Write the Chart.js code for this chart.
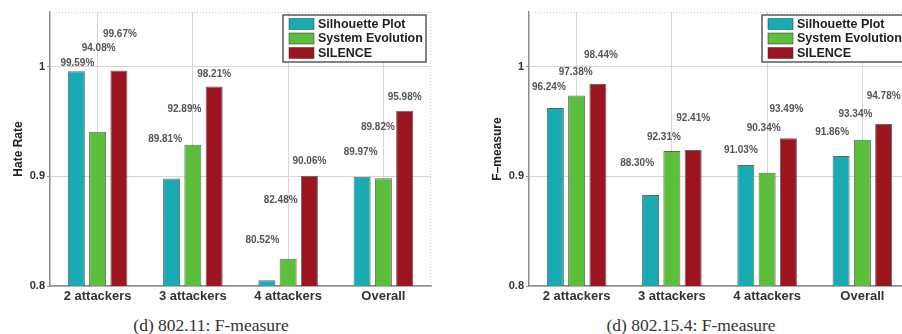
<!DOCTYPE html>
<html>
<head>
<meta charset="utf-8">
<script src="https://cdn.jsdelivr.net/npm/chart.js@4.4.1/dist/chart.umd.min.js"></script>
<style>
  html, body { margin: 0; padding: 0; background: #fff; width: 902px; height: 334px; overflow: hidden; }
  canvas { position: absolute; top: 0; }
  #wifi { left: 0; }
  #zigbee { left: 450px; }
  .cap { position: absolute; top: 315px; line-height: 20px; font-family: "Liberation Serif", "Times New Roman", serif;
         font-size: 17.5px; color: #333; white-space: nowrap; transform: translateX(-50%); }
</style>
</head>
<body>
<canvas id="wifi" width="450" height="306"></canvas>
<canvas id="zigbee" width="470" height="306"></canvas>
<div class="cap" style="left:211px">(d) 802.11: F-measure</div>
<div class="cap" style="left:691px">(d) 802.15.4: F-measure</div>
<script>
// ---- data ----
const categories = ['2 attackers', '3 attackers', '4 attackers', 'Overall'];
const seriesNames = ['Silhouette Plot', 'System Evolution', 'SILENCE'];

// 802.11 results, percent
const wifiSilhouette = [99.59, 89.81, 80.52, 89.97];
const wifiEvolution  = [94.08, 92.89, 82.48, 89.82];
const wifiSilence    = [99.67, 98.21, 90.06, 95.98];

// 802.15.4 results, percent
const zigSilhouette = [96.24, 88.30, 91.03, 91.86];
const zigEvolution  = [97.38, 92.31, 90.34, 93.34];
const zigSilence    = [98.44, 92.41, 93.49, 94.78];

const yTicks = [0.8, 0.9, 1];

// ---- styling ----
const seriesColors = ['#19abb4', '#5cbf3c', '#9c141d'];
const SANS = '"Liberation Sans", Arial, Helvetica, sans-serif';

// value-label placement: [x shift in px, height on the y axis] per series, per category
const wifiLabelPlace = [
  [[1, 1.003], [-6.5, 0.934], [-4.5, 0.842], [-1.5, 0.922]],
  [[1, 1.017], [-8.5, 0.961], [-7.5, 0.878], [-5.5, 0.945]],
  [[1, 1.030], [0, 0.993], [0, 0.914], [0, 0.972]]
];
const zigLabelPlace = [
  [[-6.5, 0.981], [-13.5, 0.912], [-5, 0.924], [-9, 0.940]],
  [[-1, 0.995], [-8, 0.936], [-3.5, 0.944], [-7, 0.957]],
  [[3, 1.0106], [0, 0.953], [-2, 0.961], [0, 0.973]]
];

// dotted frame on the top and right edges of the plot box
const frameLines = {
  id: 'frameLines',
  beforeDatasetsDraw(chart) {
    const { ctx, chartArea: a } = chart;
    ctx.save();
    ctx.strokeStyle = '#cfcfcf';
    ctx.lineWidth = 1;
    ctx.setLineDash([1, 2]);
    ctx.beginPath();
    ctx.moveTo(a.left, a.top + 0.5);
    ctx.lineTo(a.right, a.top + 0.5);
    ctx.moveTo(a.right - 0.5, a.top);
    ctx.lineTo(a.right - 0.5, a.bottom);
    ctx.stroke();
    ctx.restore();
  }
};

// percentage labels above the bars
const valueLabels = {
  id: 'valueLabels',
  afterDatasetsDraw(chart, args, opts) {
    const { ctx } = chart;
    const y = chart.scales.y;
    ctx.save();
    ctx.font = 'bold 10px ' + SANS;
    ctx.fillStyle = '#555';
    ctx.textAlign = 'center';
    ctx.textBaseline = 'middle';
    chart.data.datasets.forEach((ds, si) => {
      const meta = chart.getDatasetMeta(si);
      meta.data.forEach((bar, ci) => {
        const [dx, lvl] = opts.place[si][ci];
        const pct = ds.pct[ci];
        ctx.fillText(pct.toFixed(2) + '%', bar.x + dx, y.getPixelForValue(lvl));
      });
    });
    ctx.restore();
  }
};

// boxed legend in the upper-right corner of the plot
const boxLegend = {
  id: 'boxLegend',
  afterDraw(chart) {
    const { ctx, chartArea: a } = chart;
    const w = 143, h = 47;
    const right = a.right - 5, left = right - w, top = a.top + 3;
    ctx.save();
    ctx.fillStyle = '#fff';
    ctx.fillRect(left, top, w, h);
    ctx.strokeStyle = '#5a5a5a';
    ctx.lineWidth = 1.5;
    ctx.strokeRect(left, top, w, h);
    ctx.font = 'bold 12.5px ' + SANS;
    ctx.textBaseline = 'middle';
    ctx.textAlign = 'left';
    chart.data.datasets.forEach((ds, i) => {
      const cy = top + 9 + i * 14.5;
      ctx.fillStyle = ds.backgroundColor;
      ctx.fillRect(left + 6, cy - 5.5, 25, 11);
      ctx.strokeStyle = 'rgba(40,40,40,0.6)';
      ctx.lineWidth = 0.8;
      ctx.strokeRect(left + 6, cy - 5.5, 25, 11);
      ctx.fillStyle = '#1e1e1e';
      ctx.fillText(ds.label, left + 35, cy + 0.5);
    });
    ctx.restore();
  }
};

function makeChart(id, series, place, yTitle, padLeft, padRight) {
  return new Chart(document.getElementById(id), {
    type: 'bar',
    data: {
      labels: categories,
      datasets: series.map((vals, i) => ({
        label: seriesNames[i],
        pct: vals,
        data: vals.map(v => v / 100),
        backgroundColor: seriesColors[i],
        borderColor: 'rgba(35,35,35,0.7)',
        borderWidth: 1,
        categoryPercentage: 0.67,
        barPercentage: 0.8
      }))
    },
    options: {
      responsive: false,
      animation: false,
      devicePixelRatio: 1,
      layout: { padding: { left: padLeft, right: padRight, top: 12, bottom: 0 } },
      plugins: {
        legend: { display: false },
        tooltip: { enabled: false },
        valueLabels: { place: place }
      },
      scales: {
        x: {
          afterFit(s) { s.height = 20; },
          grid: { offset: false, drawTicks: false, color: '#d6d6d6', borderDash: [1, 2] },
          border: { color: '#8a8a8a', width: 1.5 },
          ticks: { padding: 3, color: '#333', font: { family: SANS, size: 13, weight: 'bold' }, maxRotation: 0 }
        },
        y: {
          min: 0.8,
          max: 1.05,
          afterFit(s) { s.width = 50; },
          afterBuildTicks(s) { s.ticks = yTicks.map(v => ({ value: v })); },
          grid: { color: '#d6d6d6', borderDash: [1, 2], tickLength: 3, tickColor: '#8a8a8a', tickBorderDash: [] },
          border: { color: '#8a8a8a', width: 1.5 },
          ticks: {
            padding: 2, color: '#333', font: { family: SANS, size: 11, weight: 'bold' },
            callback: v => (v === 1 ? '1' : Number(v).toFixed(1))
          },
          title: {
            display: true, text: yTitle, color: '#222',
            font: { family: SANS, size: 12, weight: 'bold' },
            padding: { top: 11, bottom: 0 }
          }
        }
      }
    },
    plugins: [frameLines, valueLabels, boxLegend]
  });
}

makeChart('wifi', [wifiSilhouette, wifiEvolution, wifiSilence], wifiLabelPlace, 'Hate Rate', 0, 19);
makeChart('zigbee', [zigSilhouette, zigEvolution, zigSilence], zigLabelPlace, 'F–measure', 29, 10);
</script>
</body>
</html>
